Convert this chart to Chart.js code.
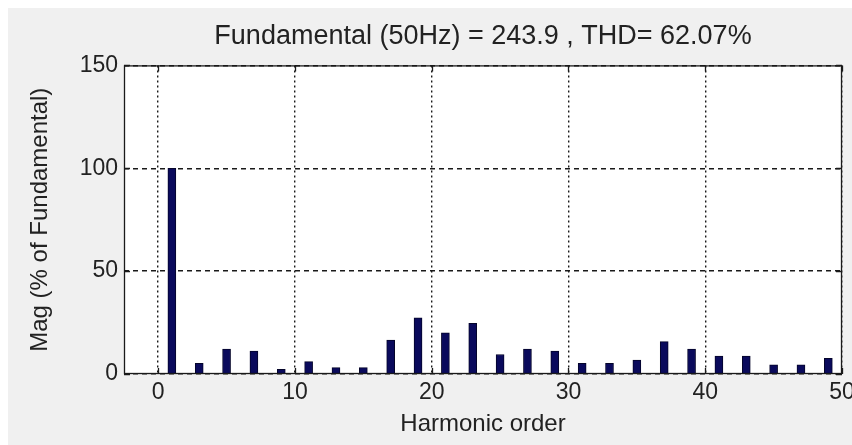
<!DOCTYPE html>
<html>
<head>
<meta charset="utf-8">
<script src="https://cdn.jsdelivr.net/npm/chart.js@4/dist/chart.umd.min.js"></script>
<style>
  html, body { margin: 0; padding: 0; background: #ffffff; }
  canvas { display: block; }
</style>
</head>
<body>
<canvas id="fft" width="852" height="445"></canvas>
<script>
// Harmonic spectrum (odd orders), magnitude in % of the fundamental
const harmonicOrders = [1, 3, 5, 7, 9, 11, 13, 15, 17, 19, 21, 23, 25, 27, 29, 31, 33, 35, 37, 39, 41, 43, 45, 47, 49];
const magnitudePct   = [100, 5.2, 12.1, 11.2, 2.3, 6.0, 3.1, 3.1, 16.5, 27.3, 20.0, 24.6, 9.5, 12.1, 11.2, 5.2, 5.2, 6.8, 15.7, 12.1, 8.7, 8.7, 4.4, 4.4, 7.6];

const xTickValues = [0, 10, 20, 30, 40, 50];
const yTickValues = [0, 50, 100, 150];
const xLimits = [-2.5, 50];
const yLimits = [0, 150];

const titleText = 'Fundamental (50Hz) = 243.9 , THD= 62.07%';
const xLabel = 'Harmonic order';
const yLabel = 'Mag (% of Fundamental)';

const FONT = "'Liberation Sans', Arial, sans-serif";
const INK = '#222222';

// Figure background, white axes area
const backdrop = {
  id: 'backdrop',
  beforeDraw(chart) {
    const { ctx, chartArea: a } = chart;
    ctx.save();
    ctx.fillStyle = '#ffffff';
    ctx.fillRect(0, 0, chart.width, chart.height);
    ctx.fillStyle = '#f0f0f0';
    ctx.fillRect(8, 8, chart.width - 8, chart.height - 8);
    ctx.fillStyle = '#ffffff';
    ctx.fillRect(a.left, a.top, a.right - a.left, a.bottom - a.top);
    ctx.restore();
  }
};

// Box frame with inward tick marks on all four sides
const axesBox = {
  id: 'axesBox',
  afterDraw(chart) {
    const { ctx, chartArea: a, scales } = chart;
    const len = 6;
    ctx.save();
    ctx.strokeStyle = '#1a1a1a';
    ctx.lineWidth = 1.3;
    ctx.setLineDash([]);
    ctx.strokeRect(a.left + 0.5, a.top + 0.5, a.right - a.left - 1, a.bottom - a.top - 1);
    ctx.beginPath();
    xTickValues.forEach(v => {
      const x = Math.round(scales.x.getPixelForValue(v)) + 0.5;
      ctx.moveTo(x, a.bottom); ctx.lineTo(x, a.bottom - len);
      ctx.moveTo(x, a.top); ctx.lineTo(x, a.top + len);
    });
    yTickValues.forEach(v => {
      const y = Math.round(scales.y.getPixelForValue(v)) + 0.5;
      ctx.moveTo(a.left, y); ctx.lineTo(a.left + len, y);
      ctx.moveTo(a.right, y); ctx.lineTo(a.right - len, y);
    });
    ctx.stroke();
    ctx.restore();
  }
};

new Chart(document.getElementById('fft'), {
  type: 'bar',
  data: {
    datasets: [{
      data: harmonicOrders.map((h, i) => ({ x: h, y: magnitudePct[i] })),
      backgroundColor: '#0a0a5c',
      borderColor: '#05052a',
      borderWidth: 1,
      barThickness: 8
    }]
  },
  plugins: [backdrop, axesBox],
  options: {
    responsive: false,
    animation: false,
    devicePixelRatio: 1,
    layout: { padding: { left: 0, right: 10, top: 0, bottom: 0 } },
    plugins: {
      legend: { display: false },
      tooltip: { enabled: false },
      title: {
        display: true,
        text: titleText,
        fullSize: false,
        color: INK,
        font: { family: FONT, size: 27, weight: 'normal', lineHeight: 1.2 },
        padding: { top: 20, bottom: 13 }
      }
    },
    scales: {
      x: {
        type: 'linear',
        offset: false,
        min: xLimits[0],
        max: xLimits[1],
        afterBuildTicks: s => { s.ticks = xTickValues.map(v => ({ value: v })); },
        afterFit: s => { s.height = 71; s.paddingLeft = 0; s.paddingRight = 0; },
        ticks: { color: INK, font: { family: FONT, size: 23 }, padding: 5, maxRotation: 0, autoSkip: false },
        grid: { color: '#1a1a1a', lineWidth: 1.4, drawTicks: false, tickLength: 0, offset: false },
        border: { display: false, dash: [2, 3] },
        title: {
          display: true, text: xLabel, color: INK,
          font: { family: FONT, size: 24, lineHeight: 1.2 },
          padding: { top: 0, bottom: 6 }
        }
      },
      y: {
        type: 'linear',
        min: yLimits[0],
        max: yLimits[1],
        afterBuildTicks: s => { s.ticks = yTickValues.map(v => ({ value: v })); },
        afterFit: s => { s.width = 124; },
        ticks: { color: INK, font: { family: FONT, size: 23 }, padding: 6 },
        grid: { color: '#1a1a1a', lineWidth: 1.4, drawTicks: false, tickLength: 0 },
        border: { display: false, dash: [5, 4] },
        title: {
          display: true, text: yLabel, color: INK,
          font: { family: FONT, size: 24, lineHeight: 1.2 },
          padding: { top: 26, bottom: 0 }
        }
      }
    }
  }
});
</script>
</body>
</html>
